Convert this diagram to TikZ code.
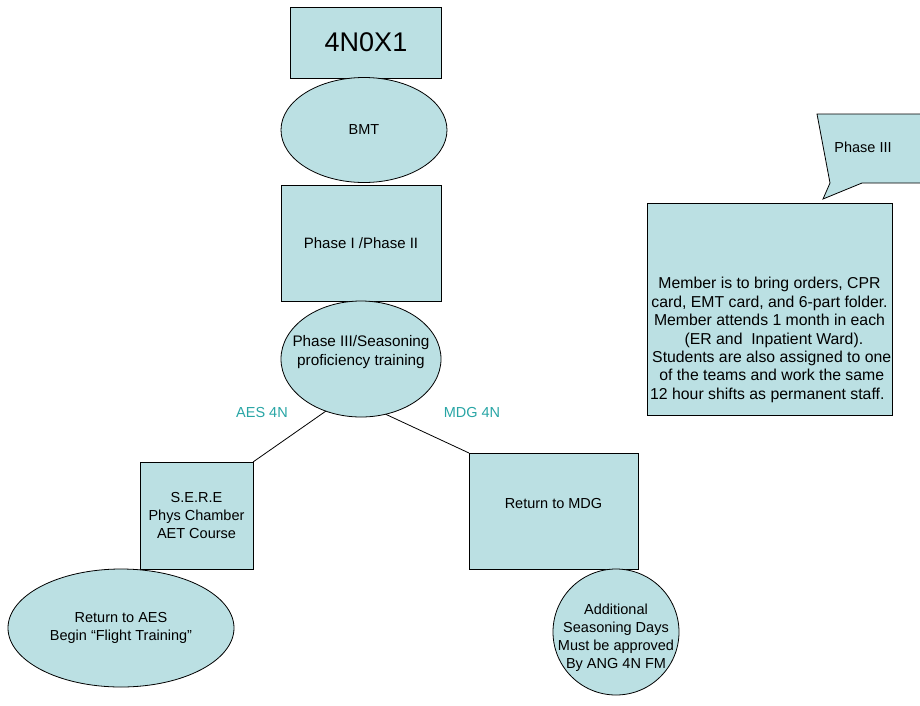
\documentclass[tikz,border=0pt]{standalone}
\usepackage{fontspec}
\setmainfont{Liberation Sans}
\usetikzlibrary{shapes.geometric}
\definecolor{boxfill}{HTML}{BBE0E3}
\definecolor{tealtext}{RGB}{40,165,165}
\begin{document}
\begin{tikzpicture}[x=1pt,y=-1pt,
  every node/.style={inner sep=0pt, outer sep=0pt, align=center,
    font=\fontsize{14.5}{18}\selectfont},
  shp/.style={draw=black, line width=0.8pt, fill=boxfill},
  rectbox/.style={shp, rectangle},
  ovalbox/.style={shp, ellipse},
  roundbox/.style={shp, circle},
  branch/.style={text=tealtext},
  link/.style={draw=black, line width=0.8pt}]
\useasboundingbox (0,0) rectangle (920,705);

% main column
\node[rectbox, minimum width=151, minimum height=71,
  font=\fontsize{27}{30}\selectfont] (afsc) at (366,42.5) {4N0X1};
\node[ovalbox, minimum width=166, minimum height=105] (bmt) at (364,130) {BMT};
\node[rectbox, minimum width=160, minimum height=116,
  font=\fontsize{15}{18}\selectfont] (p12) at (361,243) {Phase I /Phase II};
\node[ovalbox, minimum width=160, minimum height=116] (p3) at (361,359) {};
\node[font=\fontsize{15.3}{18.5}\selectfont] (p3txt) at (361,352) {Phase III/Seasoning\\proficiency training};

% branch labels
\node[branch] (aeslbl) at (262,412) {AES 4N};
\node[branch] (mdglbl) at (472,412) {MDG 4N};

% AES branch
\node[rectbox, minimum width=113, minimum height=107] (sere) at (196.5,515.5) {S.E.R.E\\Phys Chamber\\AET Course};
\node[ovalbox, minimum width=226, minimum height=118] (aes) at (121,628) {Return to AES\\Begin \textquotedblleft Flight Training\textquotedblright};

% MDG branch
\node[rectbox, minimum width=169, minimum height=116] (mdg) at (553.5,511) {};
\node (mdgtxt) at (553.5,503) {Return to MDG};
\node[roundbox, minimum size=126] (extra) at (616,632) {};
\node (extratxt) at (616,638) {Additional\\Seasoning Days\\Must be approved\\By ANG 4N FM};

% connectors
\draw[link] (p3.236) -- (sere.north east);
\draw[link] (p3.294) -- (mdg.north west);

% Phase III callout
\draw[shp, line join=miter] (817,114) -- (925,114) -- (925,183) -- (862,183)
  -- (823,199) -- (830,183) -- cycle;
\node (calltxt) at (863,147) {Phase III};

% Phase III details
\node[rectbox, minimum width=245, minimum height=212] (detail) at (769.5,309) {};
\node[font=\fontsize{15.8}{18.4}\selectfont] (detailtxt) at (769.5,340) {Member is to bring orders, CPR\\
card, EMT card, and 6-part folder.\\
Member attends 1 month in each\\
\ \ (ER and\ \ Inpatient Ward).\ \ \\
\ Students are also assigned to one\\
\ of the teams and work the same\\
12 hour shifts as permanent staff.\ \ };
\end{tikzpicture}
\end{document}
